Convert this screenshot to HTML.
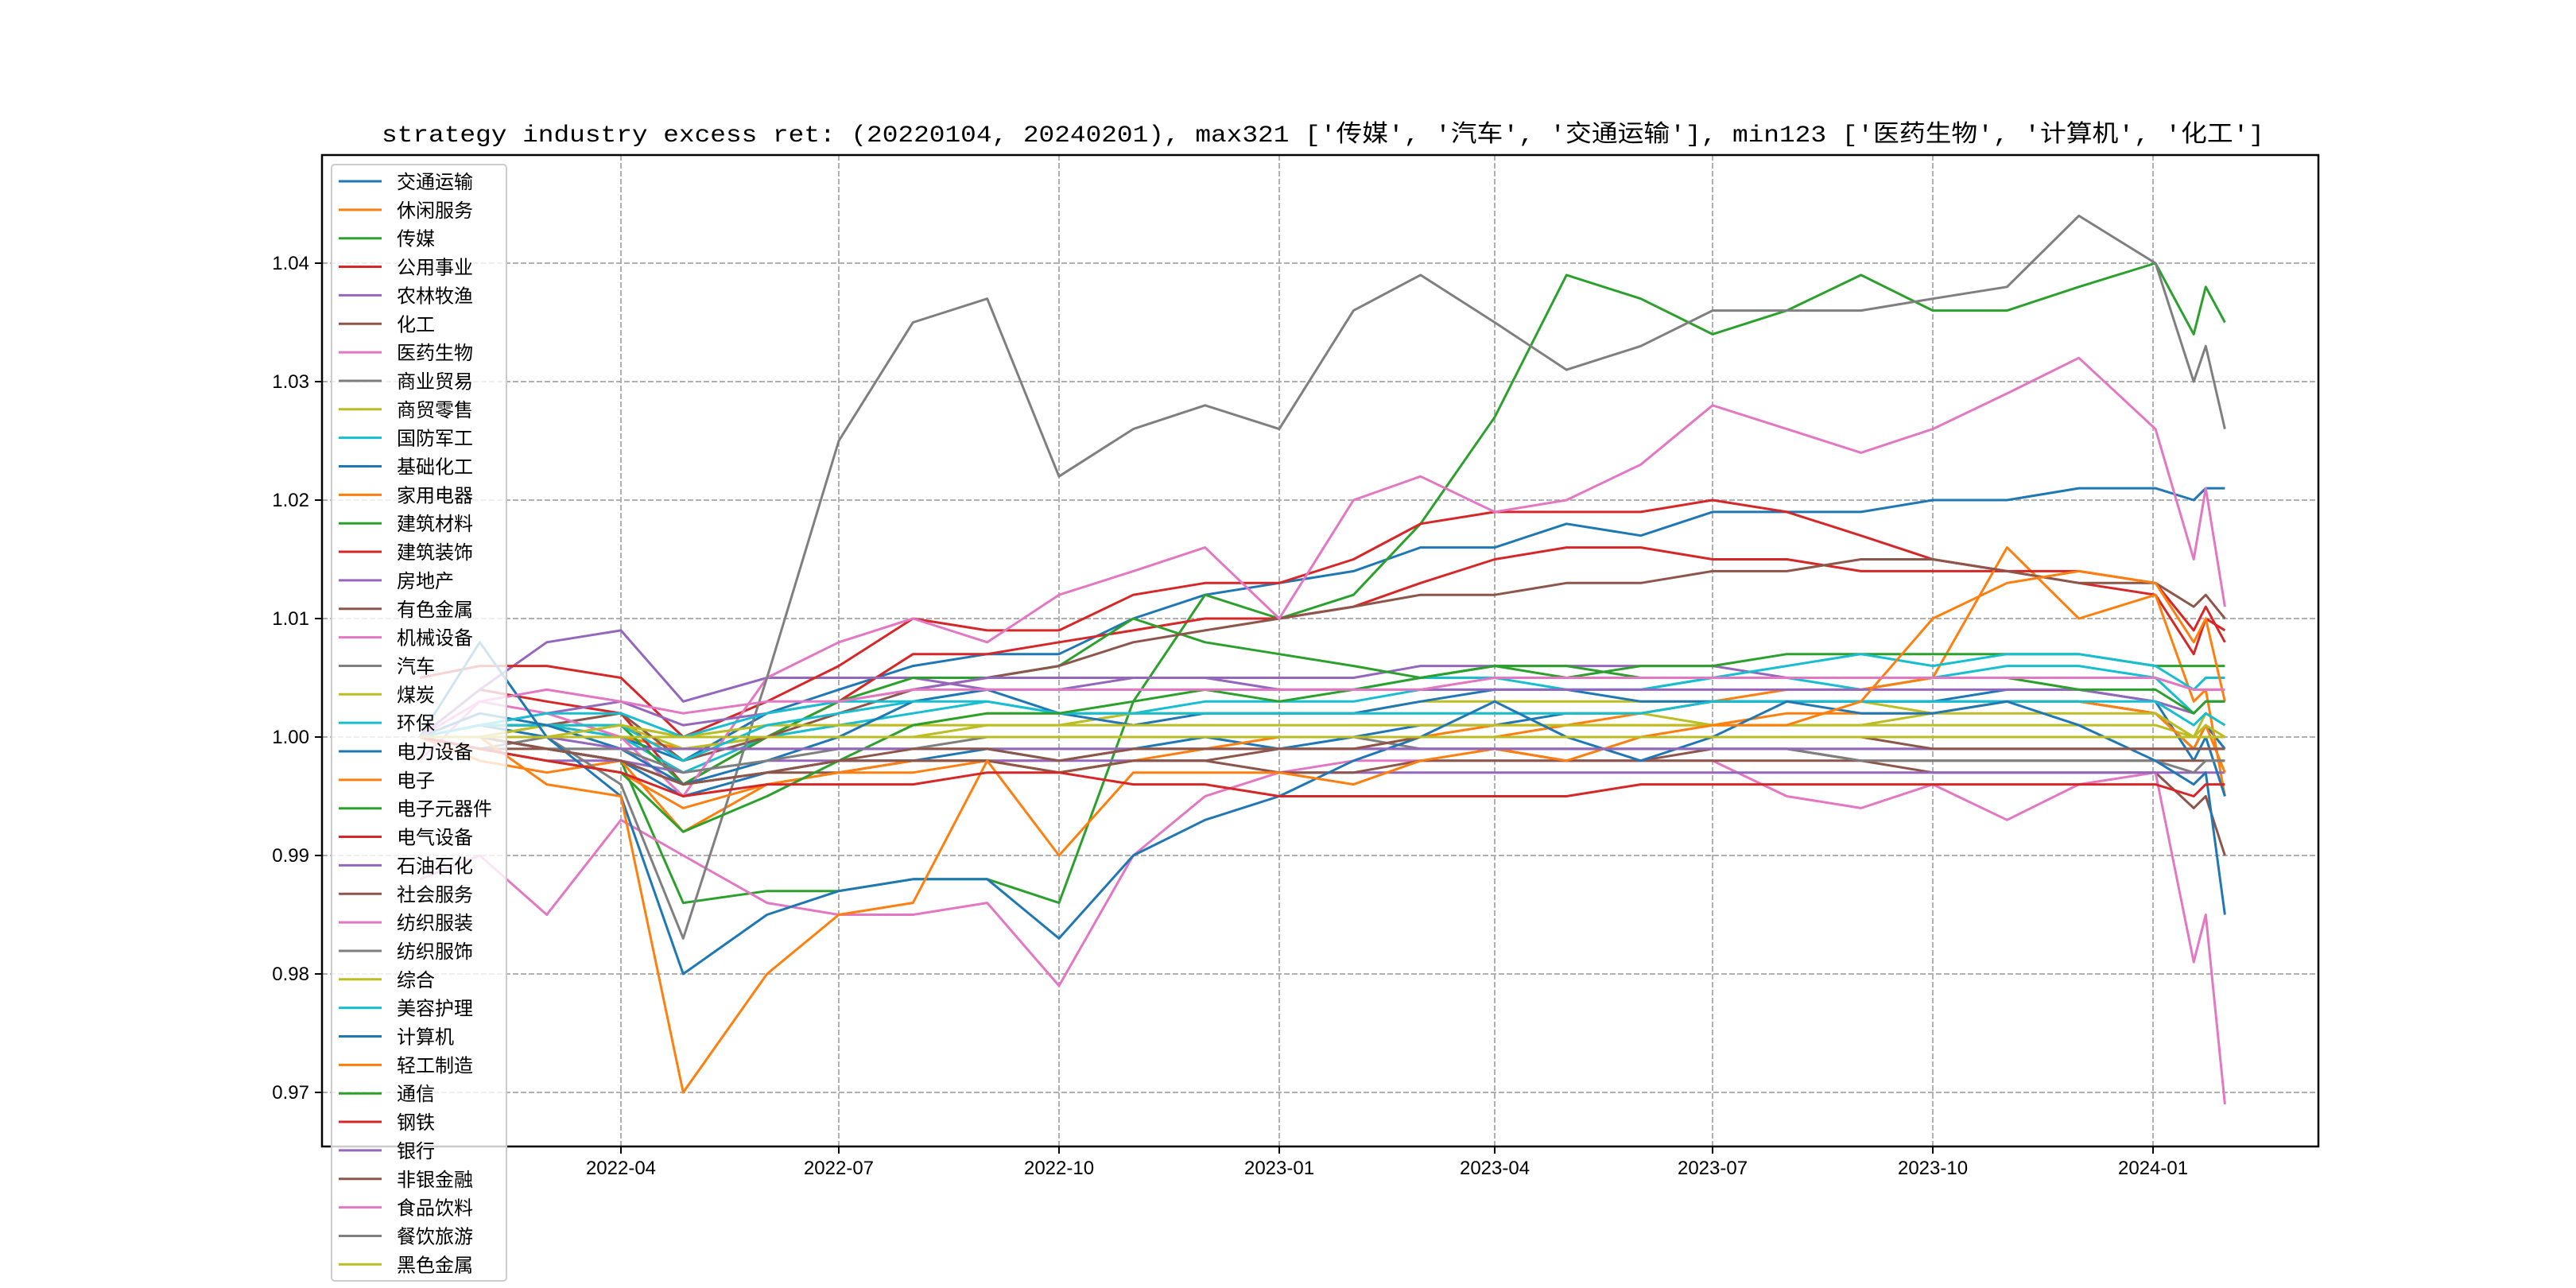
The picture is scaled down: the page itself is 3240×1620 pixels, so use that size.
<!DOCTYPE html>
<html><head><meta charset="utf-8"><style>
html,body{margin:0;padding:0;background:#fff}
svg{display:block}
text{font-family:"Liberation Sans","Noto Sans CJK SC",sans-serif}
</style></head><body>
<svg id="chart" width="3240" height="1620" viewBox="0 0 3240 1620" xmlns="http://www.w3.org/2000/svg">
<rect x="0" y="0" width="3240" height="1620" fill="#fff"/>
<text x="1664" y="178" text-anchor="middle" font-size="30" textLength="2368" lengthAdjust="spacingAndGlyphs" style="font-family:'Liberation Mono','Noto Sans CJK SC',monospace">strategy industry excess ret: (20220104, 20240201), max321 ['传媒', '汽车', '交通运输'], min123 ['医药生物', '计算机', '化工']</text>
<g id="grid"></g>
<g id="lines"></g>
<rect x="405" y="195" width="2511" height="1247" fill="none" stroke="#000" stroke-width="2.5"/>
<g id="axes"></g>
<g id="legend"></g>
</svg>
<script>
const dates = ["2022-01-07","2022-02-01","2022-03-01","2022-04-01","2022-04-27","2022-06-01","2022-07-01","2022-08-01","2022-09-01","2022-10-01","2022-11-01","2022-12-01","2023-01-01","2023-02-01","2023-03-01","2023-04-01","2023-05-01","2023-06-01","2023-07-01","2023-08-01","2023-09-01","2023-10-01","2023-11-01","2023-12-01","2024-01-02","2024-01-18","2024-01-23","2024-01-31"];
const names = ["交通运输","休闲服务","传媒","公用事业","农林牧渔","化工","医药生物","商业贸易","商贸零售","国防军工","基础化工","家用电器","建筑材料","建筑装饰","房地产","有色金属","机械设备","汽车","煤炭","环保","电力设备","电子","电子元器件","电气设备","石油石化","社会服务","纺织服装","纺织服饰","综合","美容护理","计算机","轻工制造","通信","钢铁","银行","非银金融","食品饮料","餐饮旅游","黑色金属"];
const yTicks = [0.97,0.98,0.99,1.00,1.01,1.02,1.03,1.04];
const yTickLabels = ["0.97","0.98","0.99","1.00","1.01","1.02","1.03","1.04"];
const xTicks = ["2022-04-01","2022-07-01","2022-10-01","2023-01-01","2023-04-01","2023-07-01","2023-10-01","2024-01-01"];
const xTickLabels = ["2022-04","2022-07","2022-10","2023-01","2023-04","2023-07","2023-10","2024-01"];
const s00 = [1.000,1.001,1.000,1.000,0.998,1.002,1.004,1.006,1.007,1.007,1.010,1.012,1.013,1.014,1.016,1.016,1.018,1.017,1.019,1.019,1.019,1.020,1.020,1.021,1.021,1.020,1.021,1.021];
const s01 = [1.000,1.001,1.001,1.000,0.999,1.000,1.000,1.000,1.000,1.000,1.000,1.000,1.000,1.000,1.000,1.000,1.000,1.000,1.000,1.000,1.000,1.000,1.000,1.000,1.000,1.000,1.000,1.000];
const s02 = [1.000,1.000,0.999,0.998,0.986,0.987,0.987,0.988,0.988,0.986,1.003,1.012,1.010,1.012,1.018,1.027,1.039,1.037,1.034,1.036,1.039,1.036,1.036,1.038,1.040,1.034,1.038,1.035];
const s03 = [1.000,1.004,1.003,1.002,0.996,1.000,1.003,1.007,1.007,1.008,1.009,1.010,1.010,1.011,1.013,1.015,1.016,1.016,1.015,1.015,1.014,1.014,1.014,1.013,1.012,1.007,1.010,1.009];
const s04 = [1.000,1.004,1.008,1.009,1.003,1.005,1.005,1.005,1.004,1.004,1.005,1.005,1.005,1.005,1.006,1.006,1.006,1.006,1.006,1.005,1.005,1.005,1.005,1.005,1.005,1.004,1.004,1.004];
const s05 = [1.000,1.000,0.999,0.998,0.996,0.997,0.997,0.998,0.998,0.997,0.998,0.998,0.999,0.999,0.999,0.999,0.998,0.998,0.999,0.999,0.998,0.997,0.997,0.997,0.997,0.994,0.995,0.990];
const s06 = [0.988,0.990,0.985,0.993,0.990,0.986,0.985,0.985,0.986,0.979,0.990,0.995,0.997,0.998,0.998,0.998,0.998,0.998,0.998,0.995,0.994,0.996,0.993,0.996,0.997,0.981,0.985,0.969];
const s07 = [1.000,1.000,0.999,0.999,0.999,0.999,0.999,0.999,0.999,0.999,0.999,0.999,0.999,0.999,0.999,0.999,0.999,0.999,0.999,0.999,0.999,0.999,0.999,0.999,0.999,0.999,0.999,0.999];
const s08 = [1.000,1.000,1.001,1.001,0.999,1.000,1.001,1.001,1.002,1.002,1.002,1.002,1.002,1.002,1.003,1.003,1.003,1.003,1.003,1.003,1.003,1.002,1.003,1.003,1.002,1.000,1.002,1.001];
const s09 = [1.000,1.001,1.001,1.000,0.997,1.000,1.001,1.002,1.003,1.002,1.002,1.003,1.003,1.003,1.004,1.004,1.004,1.004,1.005,1.005,1.004,1.005,1.006,1.006,1.005,1.002,1.003,1.003];
const s10 = [1.000,1.000,0.999,0.998,0.995,0.997,0.998,0.998,0.999,0.998,0.999,1.000,0.999,1.000,1.001,1.001,1.002,1.002,1.003,1.003,1.003,1.003,1.003,1.003,1.002,0.999,1.001,0.999];
const s11 = [1.000,0.998,0.997,0.998,0.992,0.996,0.997,0.997,0.998,0.998,0.999,0.999,1.000,1.000,1.000,1.001,1.001,1.002,1.003,1.004,1.004,1.005,1.016,1.010,1.012,1.003,1.004,0.995];
const s12 = [1.000,1.001,1.001,1.001,0.996,1.000,1.003,1.005,1.005,1.006,1.010,1.008,1.007,1.006,1.005,1.006,1.005,1.006,1.006,1.007,1.007,1.007,1.007,1.007,1.006,1.006,1.006,1.006];
const s13 = [1.005,1.006,1.006,1.005,1.000,1.003,1.006,1.010,1.009,1.009,1.012,1.013,1.013,1.015,1.018,1.019,1.019,1.019,1.020,1.019,1.017,1.015,1.014,1.014,1.013,1.009,1.011,1.008];
const s14 = [1.000,0.999,0.998,0.998,0.997,0.998,0.998,0.998,0.998,0.998,0.998,0.998,0.997,0.997,0.997,0.997,0.997,0.997,0.997,0.997,0.997,0.997,0.997,0.997,0.997,0.997,0.997,0.997];
const s15 = [1.000,1.001,1.001,1.002,0.998,1.000,1.002,1.004,1.005,1.006,1.008,1.009,1.010,1.011,1.012,1.012,1.013,1.013,1.014,1.014,1.015,1.015,1.014,1.013,1.013,1.011,1.012,1.010];
const s16 = [0.998,1.003,1.002,1.000,0.995,1.005,1.008,1.010,1.008,1.012,1.014,1.016,1.010,1.020,1.022,1.019,1.020,1.023,1.028,1.026,1.024,1.026,1.029,1.032,1.026,1.015,1.021,1.011];
const s17 = [1.000,0.999,1.000,0.996,0.983,1.005,1.025,1.035,1.037,1.022,1.026,1.028,1.026,1.036,1.039,1.035,1.031,1.033,1.036,1.036,1.036,1.037,1.038,1.044,1.040,1.030,1.033,1.026];
const s18 = [1.000,1.000,1.001,1.001,1.000,1.001,1.001,1.001,1.001,1.001,1.002,1.002,1.002,1.002,1.002,1.002,1.002,1.002,1.001,1.001,1.001,1.001,1.001,1.001,1.001,1.000,1.000,1.000];
const s19 = [1.000,1.001,1.001,1.001,0.998,1.001,1.002,1.003,1.004,1.004,1.004,1.004,1.004,1.004,1.005,1.005,1.004,1.004,1.005,1.006,1.007,1.006,1.007,1.007,1.006,1.004,1.005,1.005];
const s20 = [1.000,1.002,1.001,0.999,0.996,0.998,1.000,1.003,1.004,1.002,1.001,1.002,1.002,1.002,1.003,1.004,1.004,1.003,1.003,1.003,1.003,1.003,1.004,1.004,1.003,0.998,1.000,0.995];
const s21 = [1.000,0.999,0.998,0.997,0.994,0.996,0.997,0.998,0.998,0.997,0.998,0.999,0.999,0.999,1.000,1.000,1.001,1.001,1.001,1.002,1.002,1.002,1.003,1.003,1.002,0.999,1.001,0.997];
const s22 = [1.000,1.000,1.000,1.000,1.000,1.000,1.000,1.000,1.000,1.000,1.000,1.000,1.000,1.000,1.000,1.000,1.000,1.000,1.000,1.000,1.000,1.000,1.000,1.000,1.000,1.000,1.000,1.000];
const s23 = [1.000,1.000,1.000,1.000,1.000,1.000,1.000,1.000,1.000,1.000,1.000,1.000,1.000,1.000,1.000,1.000,1.000,1.000,1.000,1.000,1.000,1.000,1.000,1.000,1.000,1.000,1.000,1.000];
const s24 = [1.000,1.001,1.002,1.003,1.001,1.002,1.003,1.004,1.005,1.005,1.005,1.005,1.004,1.004,1.004,1.004,1.004,1.004,1.004,1.004,1.004,1.004,1.004,1.004,1.003,1.002,1.003,1.003];
const s25 = [1.000,0.999,0.999,0.998,0.996,0.997,0.998,0.998,0.998,0.997,0.998,0.998,0.997,0.997,0.998,0.998,0.998,0.998,0.998,0.998,0.998,0.998,0.998,0.998,0.998,0.998,0.998,0.998];
const s26 = [1.000,1.000,1.000,1.000,1.000,1.000,1.000,1.000,1.000,1.000,1.000,1.000,1.000,1.000,1.000,1.000,1.000,1.000,1.000,1.000,1.000,1.000,1.000,1.000,1.000,1.000,1.000,1.000];
const s27 = [1.000,1.000,0.999,0.999,0.997,0.998,0.999,0.999,1.000,1.000,1.000,1.000,1.000,1.000,0.999,0.999,0.999,0.999,0.999,0.999,0.998,0.998,0.998,0.998,0.998,0.997,0.998,0.998];
const s28 = [1.000,1.000,1.000,1.001,1.000,1.000,1.000,1.000,1.001,1.001,1.001,1.001,1.001,1.001,1.001,1.001,1.001,1.001,1.001,1.001,1.001,1.002,1.002,1.002,1.002,1.000,1.001,1.000];
const s29 = [1.000,1.001,1.002,1.002,1.000,1.002,1.003,1.003,1.003,1.002,1.002,1.002,1.002,1.002,1.002,1.002,1.002,1.002,1.003,1.003,1.003,1.003,1.003,1.003,1.003,1.001,1.002,1.001];
const s30 = [1.000,1.008,1.000,0.995,0.980,0.985,0.987,0.988,0.988,0.983,0.990,0.993,0.995,0.998,1.000,1.003,1.000,0.998,1.000,1.003,1.002,1.002,1.003,1.001,0.998,0.996,0.997,0.985];
const s31 = [1.000,1.000,0.996,0.995,0.970,0.980,0.985,0.986,0.998,0.990,0.997,0.997,0.997,0.996,0.998,0.999,0.998,1.000,1.001,1.001,1.003,1.010,1.013,1.014,1.013,1.008,1.010,1.003];
const s32 = [1.000,0.999,0.998,0.997,0.992,0.995,0.998,1.001,1.002,1.002,1.003,1.004,1.003,1.004,1.005,1.006,1.006,1.005,1.005,1.005,1.005,1.005,1.005,1.004,1.004,1.002,1.003,1.003];
const s33 = [1.000,0.999,0.998,0.997,0.995,0.996,0.996,0.996,0.997,0.997,0.996,0.996,0.995,0.995,0.995,0.995,0.995,0.996,0.996,0.996,0.996,0.996,0.996,0.996,0.996,0.995,0.996,0.996];
const s34 = [1.000,1.000,1.000,0.999,0.999,0.999,0.999,0.999,0.999,0.999,0.999,0.999,0.999,0.999,0.999,0.999,0.999,0.999,0.999,0.999,0.999,0.999,0.999,0.999,0.999,0.999,0.999,0.999];
const s35 = [1.000,1.000,0.999,0.998,0.996,0.997,0.998,0.999,0.999,0.998,0.999,0.999,0.999,0.999,1.000,1.000,1.000,1.000,1.000,1.000,1.000,0.999,0.999,0.999,0.999,0.999,0.999,0.999];
const s36 = [1.000,1.003,1.004,1.003,1.002,1.003,1.003,1.004,1.004,1.004,1.004,1.004,1.004,1.004,1.004,1.005,1.005,1.005,1.005,1.005,1.005,1.005,1.005,1.005,1.005,1.004,1.004,1.004];
const s37 = [1.000,1.000,1.000,1.000,1.000,1.000,1.000,1.000,1.000,1.000,1.000,1.000,1.000,1.000,1.000,1.000,1.000,1.000,1.000,1.000,1.000,1.000,1.000,1.000,1.000,1.000,1.000,1.000];
const s38 = [1.000,1.000,1.000,1.000,1.000,1.000,1.000,1.000,1.000,1.000,1.000,1.000,1.000,1.000,1.000,1.000,1.000,1.000,1.000,1.000,1.000,1.000,1.000,1.000,1.000,1.000,1.000,1.000];
const seriesValues = [s00,s01,s02,s03,s04,s05,s06,s07,s08,s09,s10,s11,s12,s13,s14,s15,s16,s17,s18,s19,s20,s21,s22,s23,s24,s25,s26,s27,s28,s29,s30,s31,s32,s33,s34,s35,s36,s37,s38];

const NS = "http://www.w3.org/2000/svg";
const palette = ["#1f77b4","#ff7f0e","#2ca02c","#d62728","#9467bd","#8c564b","#e377c2","#7f7f7f","#bcbd22","#17becf"];
const PL = 405, PR = 2916, PT = 195, PB = 1442;
const refDate = Date.UTC(2022,3,1);
function dayNum(s){const p=s.split("-");return (Date.UTC(+p[0],+p[1]-1,+p[2])-refDate)/86400000;}
function xScale(s){return 781 + dayNum(s)*3.011;}
function yScale(v){return 331 + (1.04 - v)*14900;}
function mk(tag, attrs, parent){const e=document.createElementNS(NS,tag);for(const k in attrs)e.setAttribute(k,attrs[k]);parent.appendChild(e);return e;}

const grid = document.getElementById("grid");
const axes = document.getElementById("axes");
yTicks.forEach((v,i)=>{
  const y = yScale(v);
  const g = mk("line",{x1:PL,x2:PR,y1:y,y2:y,stroke:"#b0b0b0","stroke-width":2,"stroke-dasharray":"7,3"},grid);
  
  
  const t = mk("line",{x1:PL-9,x2:PL,y1:y,y2:y,stroke:"#000","stroke-width":2},axes);
  
  
  const l = mk("text",{x:PL-16,y:y+8,"text-anchor":"end","font-size":24,fill:"#000"},axes);
  l.textContent = yTickLabels[i];
  
  
});
xTicks.forEach((d,i)=>{
  const x = xScale(d);
  const g = mk("line",{x1:x,x2:x,y1:PT,y2:PB,stroke:"#b0b0b0","stroke-width":2,"stroke-dasharray":"7,3"},grid);
  
  
  const t = mk("line",{x1:x,x2:x,y1:PB,y2:PB+9,stroke:"#000","stroke-width":2},axes);
  
  
  const l = mk("text",{x:x,y:PB+35,"text-anchor":"middle","font-size":24,fill:"#000"},axes);
  l.textContent = xTickLabels[i];
  
  
});

const lines = document.getElementById("lines");
seriesValues.forEach((vals,i)=>{
  const pts = vals.map((v,j)=>xScale(dates[j]).toFixed(1)+","+yScale(v).toFixed(1)).join(" ");
  const p = mk("polyline",{points:pts,fill:"none",stroke:palette[i%10],"stroke-width":3,"stroke-linejoin":"round"},lines);
  
  
});

const legend = document.getElementById("legend");
const rowH = 35.85, row0 = 228;
const box = mk("rect",{x:417,y:207,width:220,height:1404,rx:4,fill:"#fff","fill-opacity":0.8,stroke:"#cccccc","stroke-width":2},legend);


names.forEach((n,i)=>{
  const y = row0 + i*rowH;
  const h = mk("line",{x1:426,x2:480,y1:y,y2:y,stroke:palette[i%10],"stroke-width":3},legend);
  
  
  const t = mk("text",{x:499,y:y+9,"font-size":24,fill:"#000"},legend);
  t.textContent = n;
  
  
});
</script>
</body></html>
